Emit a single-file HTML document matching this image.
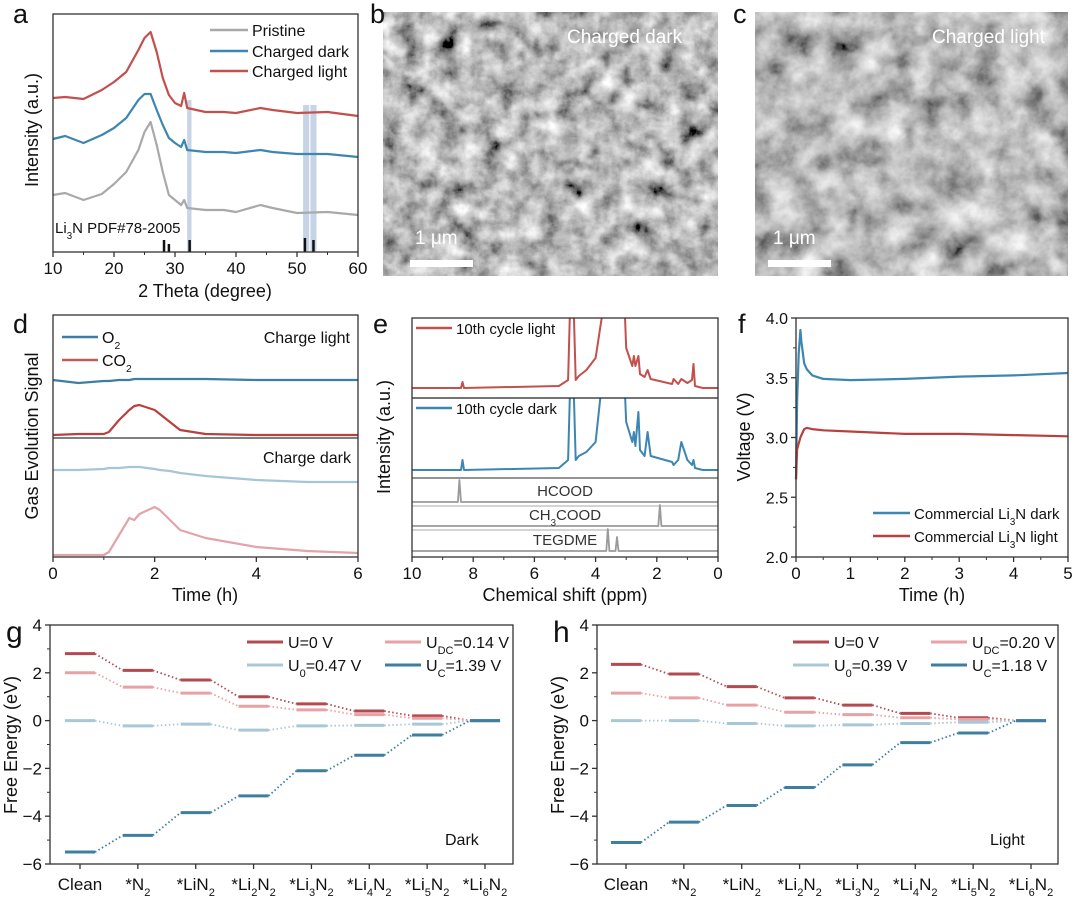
<!DOCTYPE html>
<html><head><meta charset="utf-8">
<style>
html,body{margin:0;padding:0;background:#fff;}
svg{display:block;font-family:"Liberation Sans",Arial,sans-serif;}
</style></head>
<body>
<svg id="fig" width="1080" height="900" viewBox="0 0 1080 900" xmlns="http://www.w3.org/2000/svg">
<defs>
<filter id="semB" x="0" y="0" width="100%" height="100%">
<feTurbulence type="fractalNoise" baseFrequency="0.05" numOctaves="5" seed="3" result="n"/>
<feColorMatrix type="matrix" values="0.33 0.33 0.33 0 0  0.33 0.33 0.33 0 0  0.33 0.33 0.33 0 0  0 0 0 0 1" in="n" result="g"/>
<feComponentTransfer in="g"><feFuncR type="linear" slope="2.2" intercept="-0.6"/><feFuncG type="linear" slope="2.2" intercept="-0.6"/><feFuncB type="linear" slope="2.2" intercept="-0.6"/></feComponentTransfer>
</filter>
<filter id="semC" x="0" y="0" width="100%" height="100%">
<feTurbulence type="fractalNoise" baseFrequency="0.035" numOctaves="5" seed="9" result="n"/>
<feColorMatrix type="matrix" values="0.33 0.33 0.33 0 0  0.33 0.33 0.33 0 0  0.33 0.33 0.33 0 0  0 0 0 0 1" in="n" result="g"/>
<feComponentTransfer in="g"><feFuncR type="linear" slope="1.9" intercept="-0.45"/><feFuncG type="linear" slope="1.9" intercept="-0.45"/><feFuncB type="linear" slope="1.9" intercept="-0.45"/></feComponentTransfer>
</filter>
<clipPath id="clipE1"><rect x="412" y="318" width="306" height="80"/></clipPath>
<clipPath id="clipE2"><rect x="412" y="398" width="306" height="80"/></clipPath>
</defs>

<g>
<rect x="383" y="12" width="335" height="264" fill="#888" filter="url(#semB)"/>
<text x="567" y="43" fill="#fff" font-size="19">Charged dark</text>
<text x="415" y="244" fill="#fff" font-size="19">1 μm</text>
<rect x="410" y="260" width="63" height="7" fill="#fff"/>
</g>
<g>
<rect x="755" y="12" width="313" height="264" fill="#888" filter="url(#semC)"/>
<text x="932" y="43" fill="#fff" font-size="19">Charged light</text>
<text x="773" y="244" fill="#fff" font-size="19">1 μm</text>
<rect x="768" y="260" width="63" height="7" fill="#fff"/>
</g>

<g font-size="27" fill="#111">
<text x="13" y="23">a</text>
<text x="370" y="23">b</text>
<text x="733" y="23">c</text>
<text x="13" y="333">d</text>
<text x="373" y="333">e</text>
<text x="738" y="333">f</text>
<text x="6" y="642" font-size="30">g</text>
<text x="553" y="642" font-size="30">h</text>
</g>
<g id="root"></g>
</svg>
<script>
// ---------- data: panel a (XRD) ----------
const xrdTheta = [10,12,15,18,20,22,24,25,26,27,28,29,30,31,31.5,32,35,38,40,44,46,50,55,60];
const xrdLight = [154,155,153,162,170,180,202,214,220,200,174,157,149,146,159,144,140,140,139,144,142,139,140,136];
const xrdDark  = [113,116,109,117,124,134,152,158,158,142,127,114,109,105,112,102,100,100,99,102,100,98,98,95];
const xrdPristine = [57,59,52,58,68,80,102,120,130,107,80,57,52,47,52,44,42,42,40,47,44,39,40,37];
const xrdRefPeaks = [28.2,29.0,32.4,51.3,52.7];
const xrdRefHeights = [12,8,12,14,12];
const xrdTicks = [10,20,30,40,50,60];
// ---------- data: panel d (gas evolution) ----------
const gasTime = [0,0.5,1,1.1,1.3,1.5,1.6,1.7,2,2.1,2.3,2.5,3,4,5,6];
const o2Light = [177,174,176,176,177,177,178,178,178,178,178,178,178,177,177,177];
const co2Light = [122,123,123,125,137,147,151,152,147,143,135,127,123,122,122,122];
const o2Dark = [87,87,88,89,89,90,90,90,88,87,86,84,81,77,75,75];
const co2Dark = [2,2,2,5,22,39,37,43,50,47,37,27,19,10,6,4];
const gasTicks = [0,2,4,6];
// ---------- data: panel e (NMR) ----------
const nmrPpm = [10,8.4,8.35,8.3,5.2,4.9,4.8,4.75,4.65,4.55,4.3,4.0,3.8,3.7,3.1,3.0,2.8,2.75,2.7,2.6,2.55,2.4,2.3,2.2,1.5,1.45,1.3,1.2,1.0,0.85,0.8,0.75,0.5,0];
const nmrLight = [0,0,6,0,2,8,120,120,8,12,18,30,70,120,120,40,22,32,22,32,14,11,18,9,4,9,4,9,5,8,24,2,0,0];
const nmrDark  = [0,0,10,0,2,10,120,120,10,14,18,28,85,120,120,48,28,38,24,58,20,14,38,14,8,5,10,28,10,5,10,2,0,0];
const refNames = ["HCOOD","CH_3COOD","TEGDME"];
const refPeakPpm = [[8.45],[1.9],[3.6,3.3]];
const refPeakH = [[22],[21],[22,14]];
const nmrTicks = [10,8,6,4,2,0];
// ---------- data: panel f (voltage) ----------
const vTime = [0,0.02,0.05,0.08,0.1,0.15,0.2,0.3,0.5,1,2,3,4,5];
const vDark = [2.65,3.3,3.7,3.9,3.8,3.62,3.57,3.52,3.49,3.48,3.49,3.51,3.52,3.54];
const vLight = [2.65,2.9,2.95,3.0,3.02,3.07,3.08,3.07,3.06,3.05,3.03,3.03,3.02,3.01];
const vTicksX = [0,1,2,3,4,5];
const vTicksY = [2.0,2.5,3.0,3.5,4.0];
// ---------- data: panels g/h (free energy) ----------
const steps = ["Clean","*N_2","*LiN_2","*Li_2N_2","*Li_3N_2","*Li_4N_2","*Li_5N_2","*Li_6N_2"];
const darkU0 = [2.8,2.1,1.7,1.0,0.7,0.4,0.2,0];
const darkUDC = [2.0,1.4,1.15,0.6,0.45,0.25,0.1,0];
const darkUo = [0,-0.22,-0.15,-0.4,-0.22,-0.2,-0.15,0];
const darkUC = [-5.5,-4.8,-3.85,-3.15,-2.1,-1.45,-0.6,0];
const lightU0 = [2.35,1.95,1.42,0.95,0.65,0.3,0.12,0];
const lightUDC = [1.15,0.95,0.65,0.35,0.25,0.12,0.05,0];
const lightUo = [0,0,-0.12,-0.22,-0.18,-0.12,-0.07,0];
const lightUC = [-5.1,-4.25,-3.55,-2.8,-1.85,-0.92,-0.52,0];
const energyTicks = [-6,-4,-2,0,2,4];

const NS = "http://www.w3.org/2000/svg";
const root = document.getElementById("root");
function mk(tag, attrs, parent){const e=document.createElementNS(NS,tag);for(const k in attrs)e.setAttribute(k,attrs[k]);(parent||root).appendChild(e);return e;}
function sc(d0,d1,r0,r1){return v=>r0+(v-d0)*(r1-r0)/(d1-d0);}
function pts(xs,ys,X,Y){return xs.map((x,i)=>X(x).toFixed(1)+","+Y(ys[i]).toFixed(1)).join(" ");}
function txt(x,y,s,size,anchor,parent){const t=mk("text",{x:x,y:y,"font-size":size,"text-anchor":anchor||"start",fill:"#111"},parent);t.textContent=s;return t;}
function subText(x,y,s,size,anchor,parent){ // "_d" marks a subscript digit
  const t=mk("text",{x:x,y:y,"font-size":size,"text-anchor":anchor||"start",fill:"#111"},parent);
  const parts=s.split(/(_\d)/);
  parts.forEach(p=>{if(!p)return;const sp=mk("tspan",{},t);if(p[0]==="_"){sp.textContent=p.slice(1);sp.setAttribute("font-size",size*0.65);sp.setAttribute("baseline-shift","sub");}else sp.textContent=p;});
  return t;}
function fmt(v){return String(v).replace("-","\u2212");}
function frame(x0,y0,x1,y1,name){const r=mk("rect",{x:x0,y:y0,width:x1-x0,height:y1-y0,fill:"none",stroke:"#333","stroke-width":1.3});return r;}
function tickX(g,X,vals,yb,labels,size,minors){vals.forEach((v,i)=>{mk("line",{x1:X(v),x2:X(v),y1:yb,y2:yb+5,stroke:"#333","stroke-width":1.3},g);const t=txt(X(v),yb+22,labels?labels[i]:fmt(v),size,"middle",g);});
 (minors||[]).forEach(v=>mk("line",{x1:X(v),x2:X(v),y1:yb,y2:yb+3,stroke:"#333","stroke-width":1},g));}
function tickY(g,Y,vals,xl,labels,size,minors){vals.forEach((v,i)=>{mk("line",{x1:xl-5,x2:xl,y1:Y(v),y2:Y(v),stroke:"#333","stroke-width":1.3},g);const t=txt(xl-8,Y(v)+6,labels?labels[i]:fmt(v),size,"end",g);});
 (minors||[]).forEach(v=>mk("line",{x1:xl-3,x2:xl,y1:Y(v),y2:Y(v),stroke:"#333","stroke-width":1},g));}
function ytitle(x,y,s,size,g){const t=txt(x,y,s,size,"middle",g);t.setAttribute("transform","rotate(-90 "+x+" "+y+")");return t;}
function poly(p,color,w,g){return mk("polyline",{points:p,fill:"none",stroke:color,"stroke-width":w,"stroke-linejoin":"round"},g);}

// ===== Panel a =====
(function(){
 const g=mk("g",{});
 const X=sc(10,60,53,358), Y=sc(0,240,252,12);
 [[32,32.7,100],[51,52,105],[52.2,53.2,105]].forEach(b=>{const r=mk("rect",{x:X(b[0]),y:b[2],width:X(b[1])-X(b[0]),height:252-b[2],fill:"#bccde2",opacity:0.85},g);});
 let l=poly(pts(xrdTheta,xrdPristine,X,Y),"#a9a9a9",2.2,g);
 l=poly(pts(xrdTheta,xrdDark,X,Y),"#3d86b1",2.2,g);
 l=poly(pts(xrdTheta,xrdLight,X,Y),"#c2504c",2.2,g);
 xrdRefPeaks.forEach((p,i)=>{const s=mk("line",{x1:X(p),x2:X(p),y1:Y(0),y2:Y(xrdRefHeights[i]),stroke:"#111","stroke-width":2.5},g);});
 const r=subText(55,233,"Li_3N PDF#78-2005",15,"start",g);
 frame(53,14,358,252,'plot-frame-a');
 tickX(g,X,xrdTicks,252,null,17,[15,25,35,45,55]);
 let t=txt(205,297,"2 Theta (degree)",18,"middle",g);
 t=ytitle(38,130,"Intensity (a.u.)",18,g);
 [["Pristine","#a9a9a9",30],["Charged dark","#3d86b1",51],["Charged light","#c2504c",71]].forEach(e=>{const lg=mk("g",{},g);mk("line",{x1:210,x2:248,y1:e[2],y2:e[2],stroke:e[1],"stroke-width":2.5},lg);txt(252,e[2]+6,e[0],16,"start",lg);});
})();

// ===== Panel d =====
(function(){
 const g=mk("g",{});
 const X=sc(0,6,53,358), Y=sc(0,242,557,315);
 let l=poly(pts(gasTime,o2Light,X,Y),"#3c7fa6",2.2,g);
 l=poly(pts(gasTime,co2Light,X,Y),"#b8403f",2.2,g);
 l=poly(pts(gasTime,o2Dark,X,Y),"#a5c6d6",2.2,g);
 l=poly(pts(gasTime,co2Dark,X,Y),"#e3a3aa",2.2,g);
 const dv=mk("line",{x1:53,x2:358,y1:438,y2:438,stroke:"#333","stroke-width":1.2},g);
 frame(53,315,358,557,'plot-frame-d');
 tickX(g,X,gasTicks,557,null,17,[1,3,5]);
 let t=txt(205,601,"Time (h)",18,"middle",g);
 t=ytitle(38,436,"Gas Evolution Signal",18,g);
 [["O_2","#3c7fa6",337],["CO_2","#c35a5a",360]].forEach(e=>{const lg=mk("g",{},g);mk("line",{x1:62,x2:98,y1:e[2],y2:e[2],stroke:e[1],"stroke-width":2.5},lg);subText(102,e[2]+6,e[0],16,"start",lg);});
 t=txt(350,343,"Charge light",16,"end",g);
 t=txt(351,463,"Charge dark",16,"end",g);
})();

// ===== Panel e =====
(function(){
 const g=mk("g",{});
 const X=sc(10,0,412,718);
 const Y1=sc(0,72,388,316), Y2=sc(0,72,470,398);
 let l=poly(pts(nmrPpm,nmrLight,X,Y1),"#c2504c",2,g);l.setAttribute("clip-path","url(#clipE1)");
 l=poly(pts(nmrPpm,nmrDark,X,Y2),"#3d86b1",2,g);l.setAttribute("clip-path","url(#clipE2)");
 const bases=[502,526,551];
 refNames.forEach((nm,i)=>{const rg=mk("g",{},g);
  const Yr=sc(0,1,bases[i],bases[i]-1);
  let xs=[10],ys=[0];refPeakPpm[i].forEach((p,j)=>{xs.push(p+0.05,p,p-0.05);ys.push(0,refPeakH[i][j],0);});xs.push(0);ys.push(0);
  poly(pts(xs,ys,X,Yr),"#9a9a9a",1.8,rg);
  if(i<2)mk("line",{x1:412,x2:718,y1:bases[i]+4,y2:bases[i]+4,stroke:"#aaa","stroke-width":1},rg);
  subText(565,bases[i]-6,nm,15,"middle",rg).setAttribute("fill","#333");});
 mk("line",{x1:412,x2:718,y1:398,y2:398,stroke:"#222","stroke-width":1.3},g);
 mk("line",{x1:412,x2:718,y1:478,y2:478,stroke:"#555","stroke-width":1.2},g);
 frame(412,318,718,557,'plot-frame-e');
 tickX(g,X,nmrTicks,557,null,17,[9,7,5,3,1]);
 let t=txt(565,601,"Chemical shift (ppm)",18,"middle",g);
 t=ytitle(390,437,"Intensity (a.u.)",18,g);
 [["10th cycle light","#c2504c",328],["10th cycle dark","#3d86b1",408]].forEach(e=>{const lg=mk("g",{},g);mk("line",{x1:416,x2:452,y1:e[2],y2:e[2],stroke:e[1],"stroke-width":2.5},lg);txt(456,e[2]+6,e[0],15,"start",lg);});
})();

// ===== Panel f =====
(function(){
 const g=mk("g",{});
 const X=sc(0,5,796,1068), Y=sc(2,4,557,318);
 let l=poly(pts(vTime,vDark,X,Y),"#3d86b1",2.2,g);
 l=poly(pts(vTime,vLight,X,Y),"#b8403f",2.2,g);
 frame(796,318,1068,557,'plot-frame-f');
 tickX(g,X,vTicksX,557,null,17,[0.5,1.5,2.5,3.5,4.5]);
 tickY(g,Y,vTicksY,796,vTicksY.map(v=>v.toFixed(1)),16,[2.25,2.75,3.25,3.75]);
 let t=txt(932,601,"Time (h)",18,"middle",g);
 t=ytitle(750,437,"Voltage (V)",18,g);
 [["Commercial Li_3N dark","#3d86b1",513],["Commercial Li_3N light","#b8403f",536]].forEach(e=>{const lg=mk("g",{},g);mk("line",{x1:873,x2:910,y1:e[2],y2:e[2],stroke:e[1],"stroke-width":2.5},lg);subText(914,e[2]+6,e[0],15,"start",lg);});
})();

// ===== Panels g/h =====
function energyPanel(name,x0,x1,c0,c1,series,legendX,labelTxt,labelX){
 const g=mk("g",{});
 const X=sc(0,steps.length-1,c0,c1), Y=sc(-6,4,864,625);
 const hw=(c1-c0)/(steps.length-1)*0.26;
 const cols=["#b34a4f","#e8a2a5","#a8c8d8","#3e7f9f"];
 series.forEach((s,si)=>{
  for(let i=0;i<s.length;i++){
   const lv=mk("line",{x1:X(i)-hw,x2:X(i)+hw,y1:Y(s[i]),y2:Y(s[i]),stroke:cols[si],"stroke-width":3},g);
   
   
   if(i<s.length-1){const cn=mk("line",{x1:X(i)+hw,x2:X(i+1)-hw,y1:Y(s[i]),y2:Y(s[i+1]),stroke:cols[si],"stroke-width":1.8,"stroke-dasharray":"1.5 2.5"},g);
    
    }
  }});
 frame(x0,625,x1,864,'plot-frame-'+name);
 steps.forEach((s,i)=>{mk("line",{x1:X(i),x2:X(i),y1:864,y2:869,stroke:"#333","stroke-width":1.3},g);const t=subText(X(i),890,s,17,"middle",g);});
 tickY(g,Y,energyTicks,x0,null,17,[-5,-3,-1,1,3]);
 const t=ytitle(x0-33,745,"Free Energy (eV)",18,g);
 const lab=txt(labelX,845,labelTxt,16,"start",g);
 return g;}
const gG=energyPanel("panel-g-dark",50,513,80,485,[darkU0,darkUDC,darkUo,darkUC],247,"Dark",445);
const gH=energyPanel("panel-h-light",597,1058,626,1031,[lightU0,lightUDC,lightUo,lightUC],793,"Light",990);
function energyLegend(g,lx,labels){
 const cols=["#b34a4f","#e8a2a5","#a8c8d8","#3e7f9f"];
 const pos=[[lx,642],[lx+138,642],[lx,665],[lx+138,665]];
 labels.forEach((lb,i)=>{const lg=mk("g",{},g);
  mk("line",{x1:pos[i][0],x2:pos[i][0]+36,y1:pos[i][1],y2:pos[i][1],stroke:cols[i],"stroke-width":3},lg);
  const t=mk("text",{x:pos[i][0]+41,y:pos[i][1]+6,"font-size":16,fill:"#111"},lg);
  const a=mk("tspan",{},t);a.textContent="U";
  if(lb[0]){const b=mk("tspan",{"font-size":11,"baseline-shift":"sub"},t);b.textContent=lb[0];}
  const c=mk("tspan",{},t);c.textContent=lb[1];});}
energyLegend(gG,247,[["","=0 V"],["DC","=0.14 V"],["0","=0.47 V"],["C","=1.39 V"]]);
energyLegend(gH,793,[["","=0 V"],["DC","=0.20 V"],["0","=0.39 V"],["C","=1.18 V"]]);
</script>
</body></html>
